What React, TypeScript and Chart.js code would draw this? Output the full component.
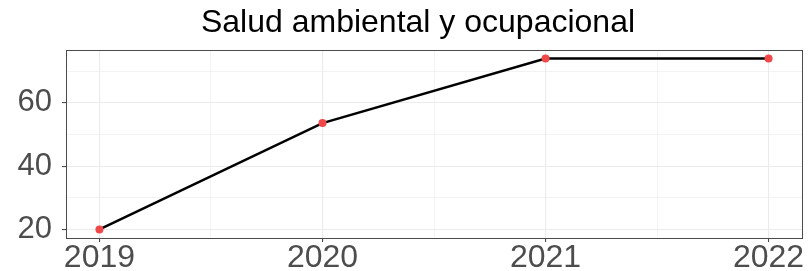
import React, { useEffect, useRef } from "react";
import { Chart, registerables } from "chart.js";

Chart.register(...registerables);

const years = [2019, 2020, 2021, 2022];
const values = [20, 53.6, 74, 74];
const xTicks = [2019, 2019.5, 2020, 2020.5, 2021, 2021.5, 2022];
const yTicks = [20, 30, 40, 50, 60, 70];
const yLabelTicks = [20, 40, 60];
const title = "Salud ambiental y ocupacional";

const FONT = "'Liberation Sans', Arial, sans-serif";

const borderPlugin = {
  id: "panelBorder",
  afterDatasetsDraw(chart: any) {
    const { ctx, chartArea } = chart;
    ctx.save();
    ctx.strokeStyle = "#4a4a4a";
    ctx.lineWidth = 1;
    ctx.strokeRect(
      Math.round(chartArea.left) + 0.5,
      Math.round(chartArea.top) + 0.5,
      Math.round(chartArea.right - chartArea.left),
      Math.round(chartArea.bottom - chartArea.top)
    );
    ctx.restore();
  },
};

const titlePlugin = {
  id: "panelTitle",
  afterDraw(chart: any) {
    const { ctx } = chart;
    ctx.save();
    ctx.fillStyle = "#000000";
    ctx.font = `32px ${FONT}`;
    ctx.textAlign = "center";
    ctx.textBaseline = "alphabetic";
    ctx.fillText(title, 418, 32);
    ctx.restore();
  },
};

export default function App() {
  const ref = useRef<HTMLCanvasElement | null>(null);
  useEffect(() => {
    if (!ref.current) return;
    const yMinData = Math.min(...values);
    const yMaxData = Math.max(...values);
    const yr = yMaxData - yMinData;
    const xr = years[years.length - 1] - years[0];
    const chart = new Chart(ref.current, {
      type: "line",
      data: {
        datasets: [
          {
            data: years.map((y, i) => ({ x: y, y: values[i] })),
            borderColor: "#000000",
            borderWidth: 2.5,
            pointBackgroundColor: "#F04848",
            pointBorderColor: "#F04848",
            pointRadius: 4,
            pointBorderWidth: 0,
            tension: 0,
          },
        ],
      },
      options: {
        animation: false,
        responsive: false,
        maintainAspectRatio: false,
        layout: { padding: { left: 0, right: 7, top: 50, bottom: 0 } },
        plugins: {
          legend: { display: false },
          tooltip: { enabled: false },
          title: { display: false },
        },
        scales: {
          x: {
            type: "linear",
            min: years[0] - 0.05 * xr,
            max: years[years.length - 1] + 0.05 * xr,
            afterBuildTicks: (s: any) => {
              s.ticks = xTicks.map((v) => ({ value: v }));
            },
            afterFit: (s: any) => {
              s.height = 33;
            },
            ticks: {
              autoSkip: false,
              maxRotation: 0,
              color: "#4d4d4d",
              font: { family: FONT, size: 32 },
              padding: -3,
              callback: (v: any) => (Number.isInteger(v) ? String(v) : ""),
            },
            grid: {
              color: "#ebebeb",
              lineWidth: (c: any) => (Number.isInteger(c.tick?.value) ? 1.1 : 0.6),
              tickColor: (c: any) => (Number.isInteger(c.tick?.value) ? "#4a4a4a" : "rgba(0,0,0,0)"),
              tickLength: 4,
              drawTicks: true,
            },
            border: { display: false },
          },
          y: {
            type: "linear",
            min: yMinData - 0.05 * yr,
            max: yMaxData + 0.05 * yr,
            afterBuildTicks: (s: any) => {
              s.ticks = yTicks.map((v) => ({ value: v }));
            },
            afterFit: (s: any) => {
              s.width = 66;
            },
            ticks: {
              autoSkip: false,
              color: "#4d4d4d",
              font: { family: FONT, size: 31 },
              padding: 10,
              callback: (v: any) => (yLabelTicks.includes(v) ? String(v) : ""),
            },
            grid: {
              color: "#ebebeb",
              lineWidth: (c: any) => (yLabelTicks.includes(c.tick?.value) ? 1.1 : 0.6),
              tickColor: (c: any) => (yLabelTicks.includes(c.tick?.value) ? "#4a4a4a" : "rgba(0,0,0,0)"),
              tickLength: 4,
              drawTicks: true,
            },
            border: { display: false },
          },
        },
      },
      plugins: [borderPlugin, titlePlugin],
    } as any);
    return () => chart.destroy();
  }, []);
  return (
    <div style={{ position: "fixed", left: 0, top: 0, width: 809, height: 271, background: "#fff" }}>
      <canvas ref={ref} width={809} height={271} style={{ width: 809, height: 271, display: "block" }} />
    </div>
  );
}
